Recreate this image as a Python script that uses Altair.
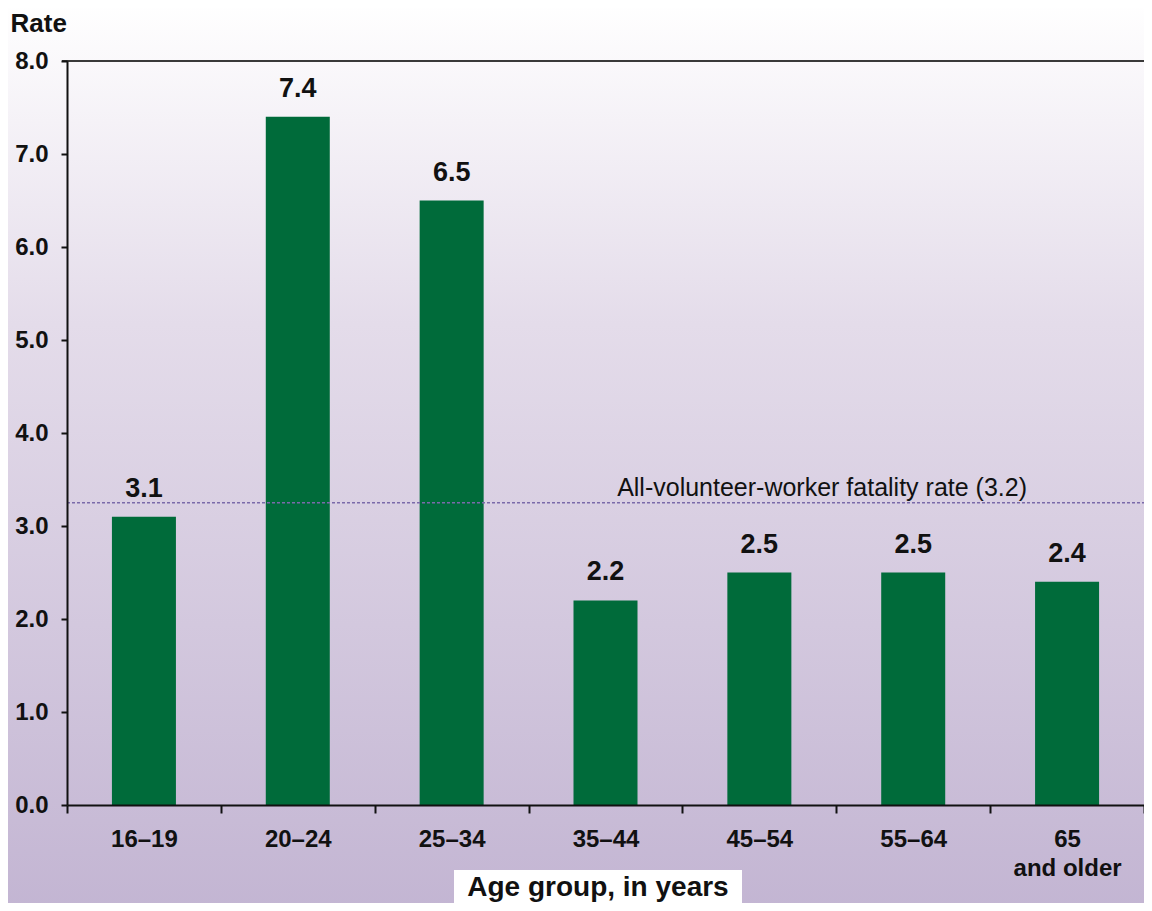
import altair as alt
import pandas as pd

# ---- data ----
age_groups = ["16–19", "20–24", "25–34", "35–44", "45–54", "55–64", "65\nand older"]
rates = [3.1, 7.4, 6.5, 2.2, 2.5, 2.5, 2.4]
rate_labels = ["3.1", "7.4", "6.5", "2.2", "2.5", "2.5", "2.4"]
overall_rate = [3.25]
overall_label = ["All-volunteer-worker fatality rate (3.2)"]
y_ticks = [0, 1, 2, 3, 4, 5, 6, 7, 8]

df = pd.DataFrame({"age": age_groups, "rate": rates, "label": rate_labels})
ref = pd.DataFrame({"rate": overall_rate, "label": overall_label})
top = pd.DataFrame({"rate": [8.0]})

FONT = "Liberation Sans, Arial, sans-serif"
W, H = 1077, 744
GREEN = "#006b3a"

x_enc = alt.X(
    "age:N",
    sort=age_groups,
    scale=alt.Scale(paddingInner=0, paddingOuter=0),
    axis=alt.Axis(
        title=None,
        labelAngle=0,
        labelFont=FONT,
        labelFontSize=24,
        labelFontWeight="bold",
        labelColor="#111111",
        labelPadding=14,
        labelLineHeight=29,
        labelExpr="split(datum.label, '\\n')",
        tickBand="extent",
        tickSize=8,
        tickWidth=2,
        tickColor="#111111",
        domainColor="#111111",
        domainWidth=2,
        grid=False,
        zindex=2,
    ),
)
y_scale = alt.Scale(domain=[0, 8], nice=False)
y_enc = alt.Y(
    "rate:Q",
    scale=y_scale,
    axis=alt.Axis(
        title="Rate",
        titleAngle=0,
        titleAlign="left",
        titleBaseline="alphabetic",
        titleX=-57,
        titleY=-30,
        titleFont=FONT,
        titleFontSize=26,
        titleFontWeight="bold",
        titleColor="#111111",
        values=y_ticks,
        format=".1f",
        labelFont=FONT,
        labelFontSize=24,
        labelFontWeight="bold",
        labelColor="#111111",
        labelPadding=13,
        tickSize=6,
        tickWidth=2,
        tickColor="#111111",
        domainColor="#111111",
        domainWidth=2,
        grid=False,
        zindex=2,
    ),
)

bg = alt.Chart(alt.Data(values=[{}])).mark_rect(
    fill=alt.LinearGradient(
        gradient="linear",
        stops=[
            alt.GradientStop(color="#ffffff", offset=0),
            alt.GradientStop(color="#e4dcea", offset=0.35),
            alt.GradientStop(color="#c2b4d2", offset=1),
        ],
        x1=0, x2=0, y1=0, y2=1,
    ),
    strokeWidth=0,
).encode(
    x=alt.value(-70), x2=alt.value(W + 20),
    y=alt.value(-60), y2=alt.value(H + 120),
)

bars = alt.Chart(df).mark_bar(color=GREEN, width=alt.RelativeBandSize(0.416)).encode(
    x=x_enc, y=y_enc
)

top_line = alt.Chart(top).mark_rule(color="#3a3a3a", strokeWidth=2).encode(
    y=alt.Y("rate:Q", scale=y_scale), x=alt.value(-5), x2=alt.value(W)
)

ref_line = alt.Chart(ref).mark_rule(
    color="#7a6aaa", strokeWidth=1.5, strokeDash=[3, 2]
).encode(y=alt.Y("rate:Q", scale=y_scale), x=alt.value(0), x2=alt.value(W))

ref_text = alt.Chart(ref).mark_text(
    align="right", baseline="alphabetic", dy=-7, font=FONT, fontSize=25,
    color="#111111",
).encode(y=alt.Y("rate:Q", scale=y_scale), x=alt.value(960), text="label:N")

bar_text = alt.Chart(df).mark_text(
    align="center", baseline="alphabetic", dy=-20, font=FONT, fontSize=27,
    fontWeight="bold", color="#111111",
).encode(x=alt.X("age:N", sort=age_groups), y=alt.Y("rate:Q", scale=y_scale), text="label:N")

title_box = alt.Chart(alt.Data(values=[{}])).mark_rect(fill="white", strokeWidth=0).encode(
    x=alt.value(387), x2=alt.value(675), y=alt.value(809), y2=alt.value(H + 120)
)
title_text = alt.Chart(alt.Data(values=[{"t": "Age group, in years"}])).mark_text(
    align="center", baseline="alphabetic", font=FONT, fontSize=28, fontWeight="bold",
    color="#111111",
).encode(x=alt.value(531), y=alt.value(835), text="t:N")

chart = alt.layer(
    bg, bars, top_line, ref_line, ref_text, bar_text, title_box, title_text
).properties(
    width=W,
    height=H,
    padding={"left": 59, "top": 53, "right": 0, "bottom": 98},
    autosize=alt.AutoSizeParams(type="none"),
).configure_view(stroke=None).configure(background="white")

chart.save("out.html", embed_options={"renderer": "svg", "actions": False})
